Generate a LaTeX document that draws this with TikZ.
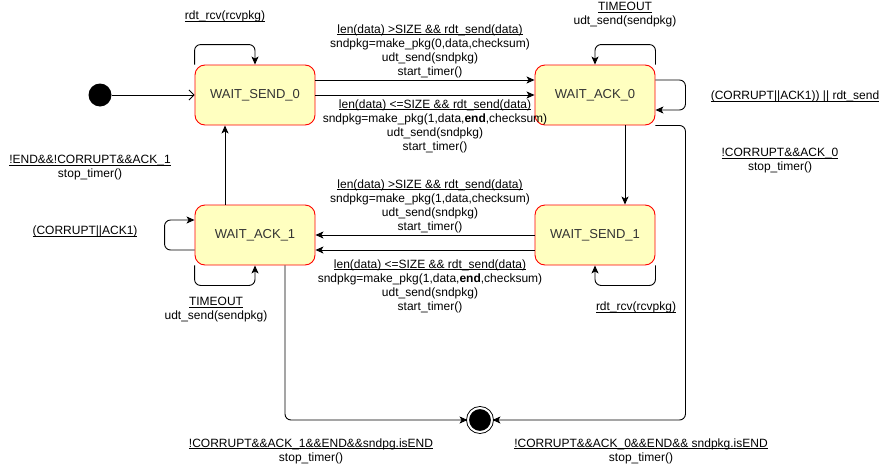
\documentclass[tikz,border=0pt]{standalone}
\usepackage{fontspec}
\setmainfont{Liberation Sans}
\usetikzlibrary{arrows.meta}
\usetikzlibrary{positioning}
\definecolor{stateyellow}{HTML}{FFFFC0}
\newcommand{\ulbl}[1]{\underline{\raisebox{0pt}[\height][0pt]{#1}}}
\tikzstyle{state} = [rectangle, rounded corners=10pt, minimum width=120pt, minimum height=60pt, text centered, draw=red, fill=stateyellow, text=black!80, font=\fontsize{13}{15}\selectfont]
\tikzstyle{lbl} = [align=center, inner sep=0pt, font=\fontsize{12}{14}\selectfont]
\tikzstyle{startdot} = [circle, fill=black, minimum size=23pt, inner sep=0pt]
\tikzstyle{enddot} = [circle, draw=black, fill=black, double=white, double distance=2pt, minimum size=24pt, inner sep=0pt]
\tikzstyle{arrow} = [-{Stealth[length=8pt,width=7pt,inset=2pt]}, rounded corners=6pt]
\tikzstyle{openarrow} = [-{Straight Barb[length=5pt,width=10pt]}]

\begin{document}
\begin{tikzpicture}[x=1pt, y=1pt, line width=0.9pt]
  \useasboundingbox (0,0) rectangle (886,-466);

  % We start by placing the states
  \node (init) [startdot] at (100,-95) {};
  \node (ws0) [state, right of=init, node distance=155pt] {WAIT\_SEND\_0};
  \node (wa0) [state, right of=ws0, node distance=340pt] {WAIT\_ACK\_0};
  \node (wa1) [state, below of=ws0, node distance=140pt] {WAIT\_ACK\_1};
  \node (ws1) [state, right of=wa1, node distance=340pt] {WAIT\_SEND\_1};
  \node (final) [enddot, below of=wa1, node distance=185pt, xshift=225pt] {};

  % Then the transition labels
  \node (rcv0) [lbl, above of=ws0, node distance=79pt, xshift=-30pt] {\ulbl{rdt\_rcv(rcvpkg)}};
  \node (snd0big) [lbl, right of=ws0, node distance=175pt, yshift=44pt] {\ulbl{len(data) >SIZE \&\& rdt\_send(data)}\\ sndpkg=make\_pkg(0,data,checksum)\\ udt\_send(sndpkg)\\ start\_timer()};
  \node (snd0end) [lbl, right of=ws0, node distance=180pt, yshift=-31pt] {\ulbl{len(data) <=SIZE \&\& rdt\_send(data)}\\ sndpkg=make\_pkg(1,data,\textbf{end},checksum)\\ udt\_send(sndpkg)\\ start\_timer()};
  \node (tmo0) [lbl, above of=wa0, node distance=80pt, xshift=30pt] {\ulbl{TIMEOUT}\\ udt\_send(sendpkg)};
  \node (crpt0) [lbl, right of=wa0, node distance=200pt, yshift=-1pt] {\ulbl{(CORRUPT||ACK1)) || rdt\_send}};
  \node (ack0) [lbl, right of=wa0, node distance=185pt, yshift=-66pt] {\ulbl{!CORRUPT\&\&ACK\_0}\\ stop\_timer()};
  \node (ack1) [lbl, left of=wa1, node distance=165pt, yshift=67pt] {\ulbl{!END\&\&!CORRUPT\&\&ACK\_1}\\ stop\_timer()};
  \node (crpt1) [lbl, left of=wa1, node distance=170pt, yshift=4pt] {\ulbl{(CORRUPT||ACK1)}};
  \node (tmo1) [lbl, below of=wa1, node distance=75pt, xshift=-39pt] {\ulbl{TIMEOUT}\\ udt\_send(sendpkg)};
  \node (snd1big) [lbl, right of=wa1, node distance=175pt, yshift=29pt] {\ulbl{len(data) >SIZE \&\& rdt\_send(data)}\\ sndpkg=make\_pkg(1,data,checksum)\\ udt\_send(sndpkg)\\ start\_timer()};
  \node (snd1end) [lbl, right of=wa1, node distance=175pt, yshift=-51pt] {\ulbl{len(data) <=SIZE \&\& rdt\_send(data)}\\ sndpkg=make\_pkg(1,data,\textbf{end},checksum)\\ udt\_send(sndpkg)\\ start\_timer()};
  \node (rcv1) [lbl, below of=ws1, node distance=72pt, xshift=41pt] {\ulbl{rdt\_rcv(rcvpkg)}};
  \node (fin1) [lbl, left of=final, node distance=169pt, yshift=-31pt] {\ulbl{!CORRUPT\&\&ACK\_1\&\&END\&\&sndpg.isEND}\\ stop\_timer()};
  \node (fin0) [lbl, right of=final, node distance=161pt, yshift=-31pt] {\ulbl{!CORRUPT\&\&ACK\_0\&\&END\&\& sndpkg.isEND}\\ stop\_timer()};

  % Draw the connections between states
  \draw [openarrow] (init) -- (ws0);
  \draw [arrow] (ws0.north west) -- ++(0,20) -| (ws0.north);
  \draw [arrow] ([yshift=15pt]ws0.east) -- ([yshift=15pt]wa0.west);
  \draw [arrow] (ws0) -- (wa0);
  \draw [arrow] (wa0.north east) -- ++(0,20) -| (wa0.north);
  \draw [arrow] ([yshift=15pt]wa0.east) -- ++(30,0) |- ([yshift=-15pt]wa0.east);
  \draw [arrow] ([xshift=30pt]wa0.south) -- ([xshift=30pt]ws1.north);
  \draw [arrow] (wa0.south east) -- ++(30,0) |- (final);
  \draw [arrow] (ws1) -- (wa1);
  \draw [arrow] ([yshift=-15pt]ws1.west) -- ([yshift=-15pt]wa1.east);
  \draw [arrow] (ws1.south east) -- ++(0,-20) -| (ws1.south);
  \draw [arrow] ([yshift=-15pt]wa1.west) -- ++(-30,0) |- ([yshift=15pt]wa1.west);
  \draw [arrow] (wa1.south west) -- ++(0,-20) -| (wa1.south);
  \draw [arrow] ([xshift=-30pt]wa1.north) -- ([xshift=-30pt]ws0.south);
  \draw [arrow] ([xshift=30pt]wa1.south) |- (final);

\end{tikzpicture}
\end{document}
